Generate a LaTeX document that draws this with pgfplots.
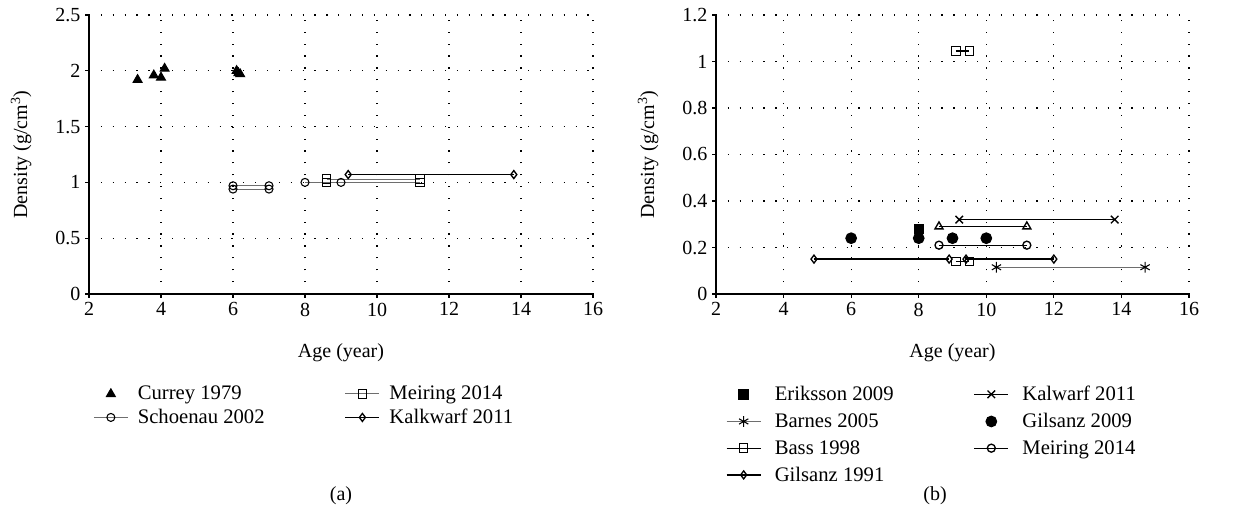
\documentclass[border=0pt]{standalone}
\usepackage{fontspec}
\setmainfont{Liberation Serif}
\usepackage{pgfplots}
\pgfplotsset{compat=1.18}

\definecolor{linegray}{RGB}{110,110,110}

\pgfplotsset{
  densityaxis/.style={
    scale only axis,
    height=209.25pt,
    axis lines=left,
    axis line style={-, line width=0.9pt},
    tick align=outside,
    major tick length=3pt,
    tick style={black, line width=0.8pt},
    xmin=2, xmax=16, xtick={2,4,...,16},
    grid=major,
    grid style={black, line width=0.9pt, dash pattern=on 0.9pt off 8pt},
    font=\fontsize{15}{18}\selectfont,
    /pgf/number format/assume math mode=true,
    xlabel={Age (year)},
    ylabel={Density (g/cm\textsuperscript{3})},
    xlabel style={yshift=-14pt},
    ylabel style={yshift=11pt},
    legend style={draw=none, fill=none, font=\fontsize{15.5}{18}\selectfont,
      /tikz/every even column/.append style={column sep=58pt},
      /tikz/every odd column/.append style={column sep=5pt},
      row sep=1.5pt},
    legend cell align=left,
    transpose legend,
    legend image code/.code={
      \draw[mark repeat=2, mark phase=2] plot coordinates {(0cm,0cm) (0.45cm,0cm) (0.9cm,0cm)};},
    every axis plot/.append style={line width=0.8pt, black},
  }
}

\begin{document}
\begin{tikzpicture}
\path[use as bounding box] (0,0) rectangle (934.5pt,392.25pt);

% (a)
\begin{axis}[densityaxis,
  at={(66.75pt,171.75pt)}, anchor=south west,
  width=378pt,
  ymin=0, ymax=2.5, ytick={0,0.5,...,2.5},
  legend columns=2,
  legend style={at={(0.0,-0.31)}, anchor=north west},
]
\addplot[only marks, mark=triangle*, mark size=3.8pt] coordinates {
 (3.35,1.92) (3.8,1.96) (4.0,1.94) (4.1,2.02) (6.1,2.00) (6.15,1.98) (6.2,1.97)};
\addlegendentry{Currey 1979}
\addplot[mark=o, mark size=3pt, draw=linegray, mark options={draw=black}] coordinates {(6,0.97) (7,0.97)};
\addlegendentry{Schoenau 2002}
\addplot[forget plot, mark=o, mark size=3pt, draw=linegray, mark options={draw=black}] coordinates {(6,0.94) (7,0.94)};
\addplot[forget plot, mark=o, mark size=3pt, draw=linegray, mark options={draw=black}] coordinates {(8,1.0) (9,1.0)};
\addplot[mark=square, mark size=3.2pt, draw=linegray, mark options={draw=black}] coordinates {(8.6,1.03) (11.2,1.03)};
\addlegendentry{Meiring 2014}
\addplot[forget plot, mark=square, mark size=3.2pt, draw=linegray, mark options={draw=black}] coordinates {(8.6,1.0) (11.2,1.0)};
\addplot[mark=diamond, mark size=3pt, line width=1pt] coordinates {(9.2,1.07) (13.8,1.07)};
\addlegendentry{Kalkwarf 2011}
\end{axis}

% (b)
\begin{axis}[densityaxis,
  at={(537pt,171.75pt)}, anchor=south west,
  width=354.75pt,
  ymin=0, ymax=1.2, ytick={0,0.2,...,1.2},
  yticklabels={0,0.2,0.4,0.6,0.8,1,1.2},
  legend columns=4,
  legend style={at={(0.012,-0.31)}, anchor=north west, row sep=4pt,
    /tikz/every odd column/.append style={column sep=8pt}},
]
\addplot[only marks, mark=square*, mark size=3.5pt] coordinates {(8,0.28)};
\addlegendentry{Eriksson 2009}
\addplot[mark=asterisk, mark size=4pt, draw=linegray, mark options={draw=black}] coordinates {(10.3,0.115) (14.7,0.115)};
\addlegendentry{Barnes 2005}
\addplot[mark=square, mark size=3.2pt] coordinates {(9.1,1.045) (9.5,1.045)};
\addlegendentry{Bass 1998}
\addplot[forget plot, mark=square, mark size=3.2pt] coordinates {(9.1,0.14) (9.5,0.14)};
\addplot[mark=diamond, mark size=3pt, line width=1pt] coordinates {(4.9,0.15) (8.9,0.15)};
\addlegendentry{Gilsanz 1991}
\addplot[forget plot, mark=diamond, mark size=3pt, line width=1pt] coordinates {(9.4,0.15) (12,0.15)};
\addplot[mark=x, mark size=4pt, line width=1pt] coordinates {(9.2,0.32) (13.8,0.32)};
\addlegendentry{Kalwarf 2011}
\addplot[only marks, mark=*, mark size=4pt] coordinates {(6,0.24) (8,0.24) (9,0.24) (10,0.24)};
\addlegendentry{Gilsanz 2009}
\addplot[mark=o, mark size=3pt, line width=1pt] coordinates {(8.6,0.21) (11.2,0.21)};
\addlegendentry{Meiring 2014}
\addplot[forget plot, mark=triangle, mark size=3.5pt, line width=1pt] coordinates {(8.6,0.29) (11.2,0.29)};
\end{axis}

\node[font=\fontsize{15}{18}\selectfont] at (255.75pt,20.6pt) {(a)};
\node[font=\fontsize{15}{18}\selectfont] at (701.25pt,20.6pt) {(b)};
\end{tikzpicture}
\end{document}
